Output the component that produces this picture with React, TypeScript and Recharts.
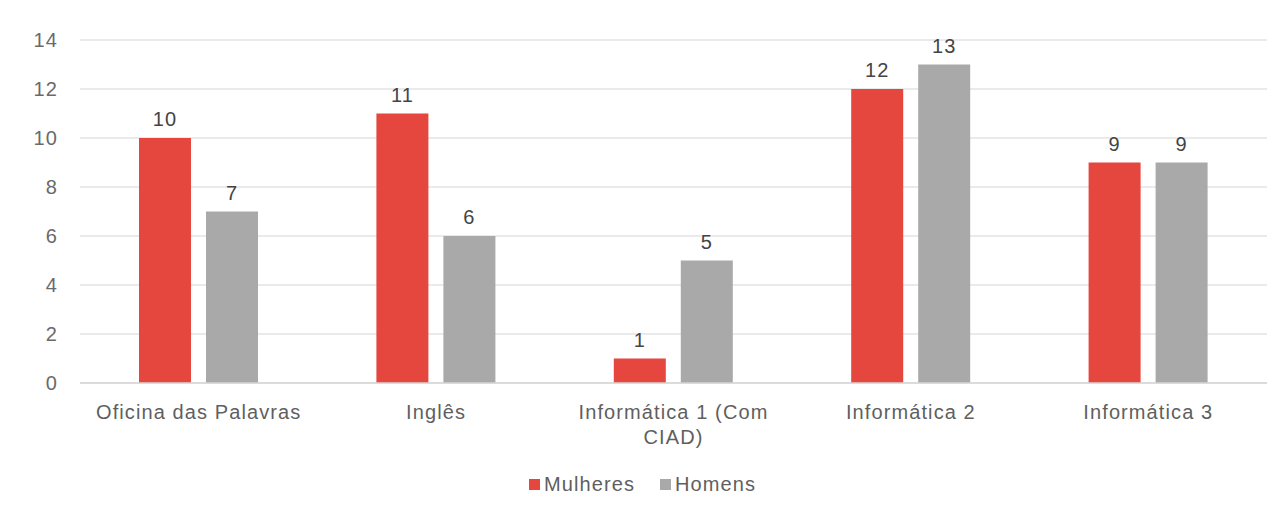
import React from "react";
import { BarChart, Bar, XAxis, YAxis, CartesianGrid, Legend, LabelList } from "recharts";

const categories = ["Oficina das Palavras", "Inglês", "Informática 1 (Com CIAD)", "Informática 2", "Informática 3"];
const mulheres = [10, 11, 1, 12, 9];
const homens = [7, 6, 5, 13, 9];
const yTicks = [0, 2, 4, 6, 8, 10, 12, 14];
const seriesNames = ["Mulheres", "Homens"];
const colors = ["#E5463E", "#A9A9A9"];

const data = categories.map((c, i) => ({ name: c, Mulheres: mulheres[i], Homens: homens[i] }));

const FONT = "'Liberation Sans', Arial, sans-serif";
const textStyle = { fontFamily: FONT, fontSize: 20, letterSpacing: 1.1 };
const MAX_CHARS = 20;

function wrapWords(s: string): string[] {
  const words = s.split(" ");
  const lines: string[] = [];
  let cur = "";
  for (const w of words) {
    const next = cur ? cur + " " + w : w;
    if (next.length > MAX_CHARS && cur) {
      lines.push(cur);
      cur = w;
    } else {
      cur = next;
    }
  }
  if (cur) lines.push(cur);
  return lines;
}

const XTick = (props: any) => {
  const { x, y, payload } = props;
  const lines = wrapWords(String(payload.value));
  return (
    <text x={x} y={y + 36} textAnchor="middle" fill="#5f5f5f" style={textStyle}>
      {lines.map((l, i) => (
        <tspan key={i} x={x} dy={i === 0 ? 0 : 25}>
          {l}
        </tspan>
      ))}
    </text>
  );
};

const LegendContent = (props: any) => {
  const payload = [...(props.payload || [])].sort(
    (a: any, b: any) => seriesNames.indexOf(a.value) - seriesNames.indexOf(b.value)
  );
  return (
    <div style={{ display: "flex", justifyContent: "center", alignItems: "center", paddingLeft: 18 }}>
      {payload.map((p: any, i: number) => (
        <div key={i} style={{ display: "flex", alignItems: "center", marginRight: i === 0 ? 25 : 0 }}>
          <span style={{ display: "inline-block", width: 11, height: 11, background: p.color, marginRight: 4 }} />
          <span style={{ ...textStyle, color: "#5f5f5f" }}>{p.value}</span>
        </div>
      ))}
    </div>
  );
};

export default function App() {
  return (
    <div style={{ position: "absolute", left: 0, top: 0, width: 1284, height: 518, background: "#fff" }}>
      <BarChart
        width={1284}
        height={518}
        data={data}
        margin={{ top: 40, right: 17, left: 0, bottom: 15 }}
        barCategoryGap="25%"
        barGap={15}
      >
        <CartesianGrid vertical={false} stroke="#e3e3e3" strokeWidth={1.5} />
        <XAxis
          dataKey="name"
          tick={<XTick />}
          tickLine={false}
          tickSize={0}
          tickMargin={0}
          height={90}
          axisLine={{ stroke: "#d6d6d6", strokeWidth: 1.5 }}
          interval={0}
        />
        <YAxis
          width={80}
          domain={[0, 14]}
          ticks={yTicks}
          axisLine={false}
          tickLine={false}
          tickSize={0}
          tickMargin={22}
          tick={{ fill: "#6a6a6a", ...textStyle }}
        />
        <Legend verticalAlign="bottom" height={30} content={<LegendContent />} />
        <Bar dataKey={seriesNames[0]} fill={colors[0]} barSize={52} isAnimationActive={false}>
          <LabelList dataKey={seriesNames[0]} position="top" offset={12} fill="#444" style={textStyle} />
        </Bar>
        <Bar dataKey={seriesNames[1]} fill={colors[1]} barSize={52} isAnimationActive={false}>
          <LabelList dataKey={seriesNames[1]} position="top" offset={12} fill="#444" style={textStyle} />
        </Bar>
      </BarChart>
    </div>
  );
}
